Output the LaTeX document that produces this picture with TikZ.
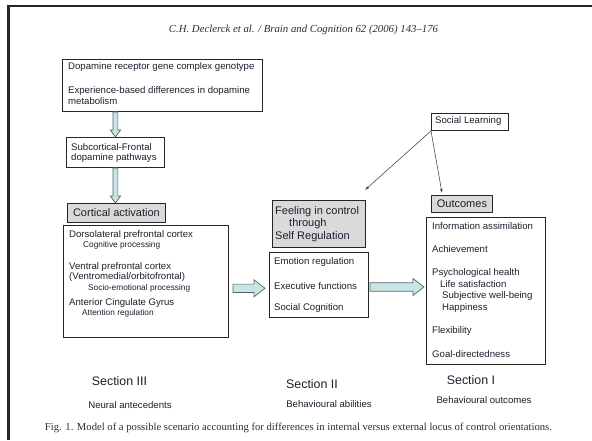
\documentclass[tikz,border=0pt]{standalone}
\usepackage{fontspec}
\setmainfont{Liberation Serif}
\setsansfont{Liberation Sans}
\usetikzlibrary{arrows.meta,calc}

\definecolor{txtc}{RGB}{30,30,45}
\definecolor{capc}{RGB}{45,45,45}
\definecolor{arrfill}{RGB}{200,228,228}
\definecolor{arredge}{RGB}{90,100,100}
\definecolor{grayfill}{RGB}{218,218,218}

\tikzset{
  box/.style={draw=black!85, line width=0.9pt, anchor=north west, inner sep=0pt},
  graybox/.style={box, fill=grayfill},
  txt/.style={anchor=west, inner sep=0pt, text=txtc, font=\sffamily\fontsize{9.6}{11}\selectfont},
  smalltxt/.style={txt, font=\sffamily\fontsize{8.3}{10}\selectfont},
  headtxt/.style={txt, font=\sffamily\fontsize{11}{13}\selectfont},
  sectxt/.style={anchor=center, inner sep=0pt, text=txtc, font=\sffamily\fontsize{12.4}{14}\selectfont},
  subsectxt/.style={anchor=center, inner sep=0pt, text=txtc, font=\sffamily\fontsize{9.6}{11}\selectfont},
  blockarrow/.style={draw=arredge, fill=arrfill, line width=0.7pt, line join=miter},
  thinarrow/.style={draw=black!70, line width=0.6pt, -{Latex[length=4pt,width=3pt]}},
  frameline/.style={draw=black!85, line width=2.5pt},
}

\newcommand{\vblockarrow}[2]{%
  \path[blockarrow] let \p1=(#1), \p2=(#2) in
    (\x1-2.4pt,\y1) -- (\x1-2.4pt,\y2+7pt) -- (\x1-5.2pt,\y2+7pt) -- (\x1,\y2)
    -- (\x1+5.2pt,\y2+7pt) -- (\x1+2.4pt,\y2+7pt) -- (\x1+2.4pt,\y1) -- cycle;}
\newcommand{\hblockarrow}[2]{%
  \path[blockarrow] let \p1=(#1), \p2=(#2) in
    (\x1,\y1+4.2pt) -- (\x2-11pt,\y1+4.2pt) -- (\x2-11pt,\y1+8.5pt) -- (\x2,\y1)
    -- (\x2-11pt,\y1-8.5pt) -- (\x2-11pt,\y1-4.2pt) -- (\x1,\y1-4.2pt) -- cycle;}

\begin{document}
\begin{tikzpicture}[x=1pt,y=-1pt]
\useasboundingbox (0,0) rectangle (592,440);
\fill[white] (0,0) rectangle (592,440);

% frame
\draw[frameline] (8.7,440) -- (8.7,6) -- (592,6);

% header
\node[anchor=center, inner sep=0pt, text=capc] (header) at (303.5,30)
  {\resizebox{269pt}{!}{\itshape C.H. Declerck et al. / Brain and Cognition 62 (2006) 143–176}};

% Section III column
\node[box, minimum width=200pt, minimum height=52pt] (top) at (62,59) {};
\node[txt] (t1) at (68,67) {Dopamine receptor gene complex genotype};
\node[txt] (t2) at (68,91.5) {Experience-based differences in dopamine};
\node[txt] (t3) at (68,101.5) {metabolism};

\node[box, minimum width=98pt, minimum height=30pt] (sub) at (66,137) {};
\node[txt] (s1) at (71,147) {Subcortical-Frontal};
\node[txt] (s2) at (71,158) {dopamine pathways};

\node[graybox, minimum width=98pt, minimum height=19pt] (cort) at (67,203) {};
\node[headtxt, anchor=center] (cortt) at (cort.center) {Cortical activation};

\node[box, minimum width=165pt, minimum height=112pt] (left) at (63,225) {};
\node[txt] (l1) at (69,235) {Dorsolateral prefrontal cortex};
\node[smalltxt] (l2) at (83,245.5) {Cognitive processing};
\node[txt] (l3) at (69,267) {Ventral prefrontal cortex};
\node[txt] (l4) at (69,277.5) {(Ventromedial/orbitofrontal)};
\node[smalltxt] (l5) at (88,288) {Socio-emotional processing};
\node[txt] (l6) at (69,303) {Anterior Cingulate Gyrus};
\node[smalltxt] (l7) at (82,313.5) {Attention regulation};

\vblockarrow{top.south -| sub.north}{sub.north}
\vblockarrow{sub.south}{cort.north}

% Section II column
\node[graybox, minimum width=93pt, minimum height=47pt] (feel) at (272,200) {};
\node[headtxt] (f1) at (275,211.5) {Feeling in control};
\node[headtxt] (f2) at (289,224) {through};
\node[headtxt] (f3) at (275,237) {Self Regulation};

\node[box, minimum width=99pt, minimum height=65pt] (abil) at (269,252) {};
\node[txt] (b1) at (274,262) {Emotion regulation};
\node[txt] (b2) at (274,286) {Executive functions};
\node[txt] (b3) at (274,308) {Social Cognition};

\coordinate (h1s) at (233,288.3);
\coordinate (h1e) at (265,288.3);
\hblockarrow{h1s}{h1e}

% Section I column
\node[box, minimum width=77pt, minimum height=17pt] (social) at (431,113) {};
\node[txt] (sl) at (435,121.5) {Social Learning};

\node[graybox, minimum width=61pt, minimum height=17pt] (outc) at (431,195) {};
\node[headtxt, anchor=center] (outct) at (outc.center) {Outcomes};

\node[box, minimum width=119pt, minimum height=147pt] (outl) at (426,217) {};
\node[txt] (o1) at (432,226) {Information assimilation};
\node[txt] (o2) at (432,249) {Achievement};
\node[txt] (o3) at (432,273) {Psychological health};
\node[txt] (o4) at (440,284.5) {Life satisfaction};
\node[txt] (o5) at (442,296.5) {Subjective well-being};
\node[txt] (o6) at (442,308.5) {Happiness};
\node[txt] (o7) at (432,331) {Flexibility};
\node[txt] (o8) at (432,354) {Goal-directedness};

\coordinate (h2s) at (370,287);
\coordinate (h2e) at (424,287);
\hblockarrow{h2s}{h2e}

% thin arrows from Social Learning
\coordinate (fa) at (365,190);
\coordinate (oa) at (442,193);
\draw[thinarrow] (social.south west) -- (fa);
\draw[thinarrow] (social.south west) -- (oa);

% section labels
\node[sectxt] (sec3) at (119.5,381) {Section III};
\node[subsectxt] (sec3b) at (130,405) {Neural antecedents};
\node[sectxt] (sec2) at (312,384) {Section II};
\node[subsectxt] (sec2b) at (329,404) {Behavioural abilities};
\node[sectxt] (sec1) at (471,380) {Section I};
\node[subsectxt] (sec1b) at (484,400) {Behavioural outcomes};

% caption
\node[anchor=center, inner sep=0pt, text=capc] (caption) at (298.5,428)
  {\resizebox{507pt}{!}{Fig. 1. Model of a possible scenario accounting for differences in internal versus external locus of control orientations.}};
\end{tikzpicture}
\end{document}
